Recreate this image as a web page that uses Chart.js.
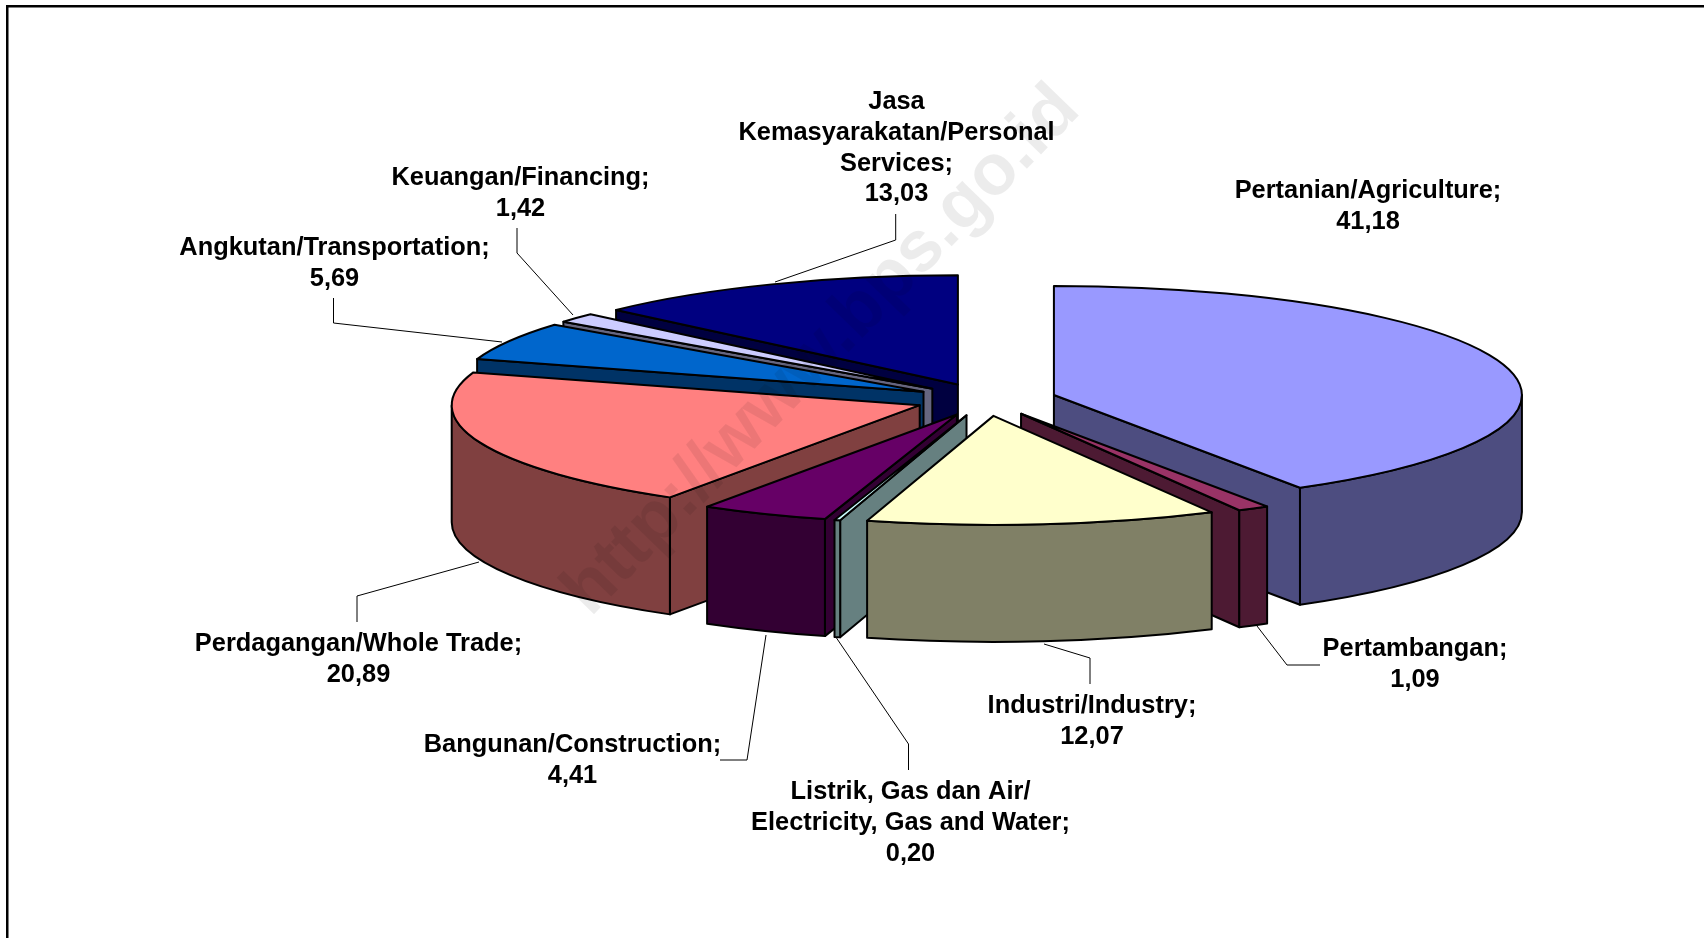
<!DOCTYPE html>
<html>
<head>
<meta charset="utf-8">
<title>Pie</title>
<script src="https://cdn.jsdelivr.net/npm/chart.js@4"></script>
<style>
html, body { margin: 0; padding: 0; background: #fff; overflow: hidden; }
canvas { display: block; }
</style>
</head>
<body>
<canvas id="chart" width="1704" height="938"></canvas>
<script>
const categories = [
    "Pertanian/Agriculture",
    "Pertambangan",
    "Industri/Industry",
    "Listrik, Gas dan Air/\nElectricity, Gas and Water",
    "Bangunan/Construction",
    "Perdagangan/Whole Trade",
    "Angkutan/Transportation",
    "Keuangan/Financing",
    "Jasa\nKemasyarakatan/Personal\nServices"
];
const values = [41.18, 1.09, 12.07, 0.20, 4.41, 20.89, 5.69, 1.42, 13.03];
const topColors = ["#9999FF", "#993366", "#FFFFCC", "#CCFFFF", "#660066", "#FF8080", "#0066CC", "#CCCCFF", "#000080"];
const wallColors = ["#4D4D80", "#4D1A33", "#808066", "#668080", "#330033", "#804040", "#003366", "#666680", "#000040"];

// label centre x and first line y
const labelX = [1368, 1415, 1092, 910.5, 572.5, 358.5, 334.5, 520.5, 896.5];
const labelY = [191, 649, 706, 792, 745, 644, 248, 178, 102];
const leaders = [
    [],
    [[1320, 665], [1287, 665], [1257, 626]],
    [[1090, 684], [1090, 658], [1044, 644]],
    [[908.5, 770], [908.5, 744], [836.5, 638]],
    [[720, 760], [747, 760], [766, 635]],
    [[357, 622], [357, 596], [479, 562]],
    [[333.5, 298], [333.5, 323], [502, 342]],
    [[517, 228], [517, 253], [573, 315]],
    [[895.7, 214], [895.7, 240], [775, 282]]
];

// fake 3d settings
const centerX = 986, centerY = 399.5;
const squash = 0.233, explode = 70.6, depth = 117;

function sliceCenter(arc) {
    const mid = (arc.startAngle + arc.endAngle) / 2;
    return {
        x: centerX + Math.cos(mid) * explode,
        y: centerY + Math.sin(mid) * explode * squash
    };
}

function rimPoint(c, r, a) {
    return [c.x + Math.cos(a) * r, c.y + Math.sin(a) * r * squash];
}

function fillWall(ctx, points, color) {
    ctx.beginPath();
    points.forEach((p, i) => i ? ctx.lineTo(p[0], p[1]) : ctx.moveTo(p[0], p[1]));
    ctx.closePath();
    ctx.fillStyle = color;
    ctx.fill();
    ctx.stroke();
}

function drawWalls(ctx, arc, color) {
    const c = sliceCenter(arc);
    const r = arc.outerRadius;
    const a0 = arc.startAngle, a1 = arc.endAngle;
    const p0 = rimPoint(c, r, a0), p1 = rimPoint(c, r, a1);

    // straight cut faces, only the ones that look at the viewer
    if (Math.cos(a0) < 0) {
        fillWall(ctx, [[c.x, c.y], p0, [p0[0], p0[1] + depth], [c.x, c.y + depth]], color);
    }
    if (Math.cos(a1) > 0) {
        fillWall(ctx, [[c.x, c.y], p1, [p1[0], p1[1] + depth], [c.x, c.y + depth]], color);
    }
    // outer rim, front half of the ellipse
    const lo = Math.max(a0, 0), hi = Math.min(a1, Math.PI);
    if (hi > lo) {
        ctx.beginPath();
        ctx.ellipse(c.x, c.y, r, r * squash, 0, lo, hi);
        ctx.ellipse(c.x, c.y + depth, r, r * squash, 0, hi, lo, true);
        ctx.closePath();
        ctx.fillStyle = color;
        ctx.fill();
        ctx.stroke();
    }
}

function drawTop(ctx, arc) {
    const c = sliceCenter(arc);
    ctx.save();
    ctx.translate(c.x, c.y);
    ctx.scale(1, squash);
    ctx.translate(-arc.x, -arc.y);
    arc.draw(ctx);
    ctx.restore();

    ctx.beginPath();
    ctx.moveTo(c.x, c.y);
    ctx.ellipse(c.x, c.y, arc.outerRadius, arc.outerRadius * squash, 0, arc.startAngle, arc.endAngle);
    ctx.closePath();
    ctx.stroke();
}

const pie3d = {
    id: "pie3d",
    beforeDraw(chart) {
        const ctx = chart.ctx;
        ctx.save();
        ctx.fillStyle = "#fff";
        ctx.fillRect(0, 0, chart.width, chart.height);
        ctx.fillStyle = "#000";
        ctx.fillRect(6, 5, chart.width - 6, 2.5);
        ctx.fillRect(6, 5, 2.5, chart.height - 5);
        ctx.restore();
    },
    beforeDatasetDraw(chart, args) {
        const ctx = chart.ctx;
        const arcs = args.meta.data;
        const order = arcs.map((a, i) => i).sort((i, j) =>
            Math.sin((arcs[i].startAngle + arcs[i].endAngle) / 2) -
            Math.sin((arcs[j].startAngle + arcs[j].endAngle) / 2));
        ctx.save();
        ctx.strokeStyle = "#000";
        ctx.lineWidth = 2;
        ctx.lineJoin = "round";
        order.forEach(i => drawWalls(ctx, arcs[i], wallColors[i]));
        order.forEach(i => drawTop(ctx, arcs[i]));
        ctx.restore();
        return false;
    },
    afterDatasetsDraw(chart) {
        const ctx = chart.ctx;
        ctx.save();

        // watermark
        ctx.save();
        ctx.translate(822, 351);
        ctx.rotate(-45.8 * Math.PI / 180);
        ctx.font = "bold 72px 'Liberation Sans'";
        ctx.textAlign = "center";
        ctx.textBaseline = "middle";
        ctx.fillStyle = "rgba(0,0,0,0.075)";
        ctx.fillText("http://www.bps.go.id", 0, 0);
        ctx.restore();

        // leader lines
        ctx.strokeStyle = "#000";
        ctx.lineWidth = 1;
        leaders.forEach(line => {
            if (!line.length) return;
            ctx.beginPath();
            line.forEach((p, i) => i ? ctx.lineTo(p[0], p[1]) : ctx.moveTo(p[0], p[1]));
            ctx.stroke();
        });

        // labels
        ctx.fillStyle = "#000";
        ctx.font = "bold 25.4px 'Liberation Sans'";
        ctx.textAlign = "center";
        ctx.textBaseline = "middle";
        categories.forEach((name, i) => {
            const lines = (name + ";").split("\n");
            lines.push(values[i].toFixed(2).replace(".", ","));
            lines.forEach((t, n) => ctx.fillText(t, labelX[i], labelY[i] + n * 30.8));
        });
        ctx.restore();
    }
};

new Chart(document.getElementById("chart").getContext("2d"), {
    type: "pie",
    data: {
        labels: categories,
        datasets: [{
            data: values,
            backgroundColor: topColors,
            borderWidth: 0
        }]
    },
    options: {
        responsive: false,
        animation: false,
        radius: 468,
        rotation: 0,
        events: [],
        plugins: {
            legend: { display: false },
            tooltip: { enabled: false }
        }
    },
    plugins: [pie3d]
});
</script>
</body>
</html>
